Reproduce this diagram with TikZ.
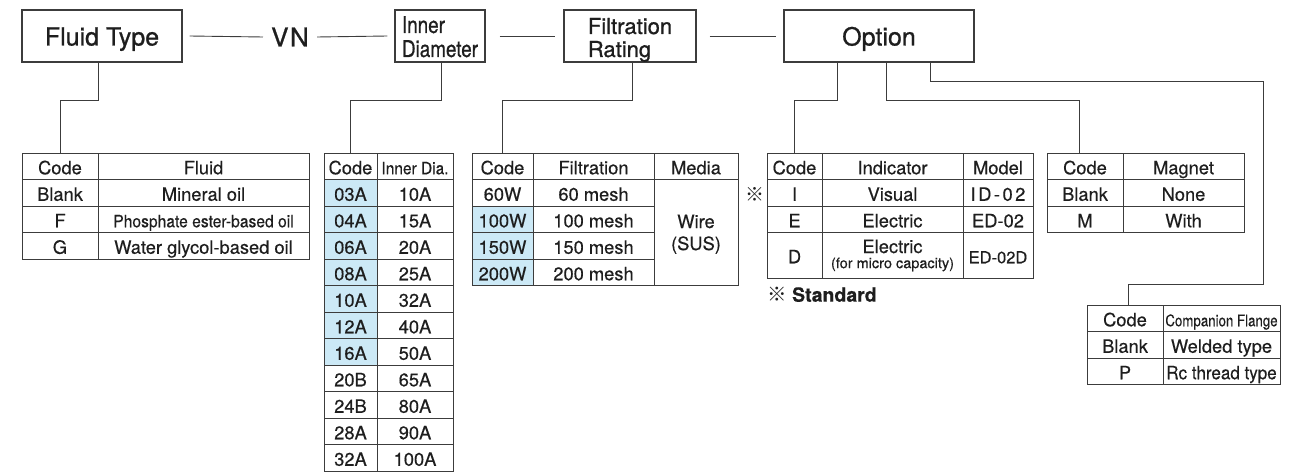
\documentclass[tikz,border=0pt]{standalone}
\usepackage{fontspec}
\usepackage{graphicx}
\setmainfont{TeX Gyre Heros}[FakeBold=0.4]
\newfontfamily\cjkfont{Noto Sans CJK JP}
\usetikzlibrary{calc}
\definecolor{shadeblue}{RGB}{204,233,246}
\definecolor{ln}{RGB}{60,60,60}
\definecolor{txt}{RGB}{30,30,30}
% cell: name, x1, y1, x2, y2, style, text
\newcommand\tcell[7]{\node[#6, minimum width={(#4)-(#2)}, minimum height={(#5)-(#3)}] (#1) at ({((#2)+(#4))/2},{((#3)+(#5))/2}) {#7};}
\newcommand\cond[3]{\scalebox{#1}[1]{\fontsize{#2}{#2}\selectfont #3}}
\begin{document}
\begin{tikzpicture}[x=1pt,y=-1pt,
  tc/.style={draw=ln, line width=0.9pt, inner sep=0pt, text=txt, font=\fontsize{18.3}{20}\selectfont},
  tl/.style={tc, text height=16pt, text depth=0pt},
  box/.style={draw=ln, line width=1.1pt, inner sep=0pt, text=txt, text height=19pt, text depth=0pt, font=\fontsize{25}{27}\selectfont\addfontfeature{FakeBold=0.9}, minimum height=52},
  multi/.style={text height=0pt, text depth=0pt},
  wire/.style={draw=ln, line width=0.9pt}]
\useasboundingbox (0,0) rectangle (1300,473);

% ---------- top row ----------
\node[box, minimum width=160] (ft) at (102,36) {Fluid Type};
\node[inner xsep=8pt, inner ysep=0pt, text=txt, text height=19pt, text depth=0pt, font=\fontsize{26}{28}\selectfont\addfontfeature{FakeBold=0.9}] (vn) at (290,37) {V\kern1.5pt N};
\node[box, multi, minimum width=90] (id) at (440,36) {\raisebox{3pt}[0pt][0pt]{\scalebox{0.82}[1]{\fontsize{23}{24}\selectfont\begin{tabular}[t]{@{}l@{}}Inner\\Diameter\end{tabular}}}};
\node[box, multi, minimum width=132] (fr) at (630,36) {\raisebox{2pt}[0pt][0pt]{\fontsize{22}{23}\selectfont\begin{tabular}[t]{@{}l@{}}Filtration\\Rating\end{tabular}}};
\node[box, minimum width=190] (op) at (879,36) {Option};

\draw[wire] ([xshift=7pt]ft.east) -- (vn.west);
\draw[wire] (vn.east) -- ([xshift=-7pt]id.west);
\draw[wire] ([xshift=14pt]id.east) -- ([xshift=-8pt]fr.west);
\draw[wire] ([xshift=13pt]fr.east) -- ([xshift=-7pt]op.west);

% ---------- fluid table ----------
\tcell{fh1}{22}{153}{98}{179.5}{tl}{Code}
\tcell{fh2}{98}{153}{309}{179.5}{tl}{Fluid}
\tcell{f1a}{22}{179.5}{98}{206}{tl}{Blank}
\tcell{f1b}{98}{179.5}{309}{206}{tl}{Mineral oil}
\tcell{f2a}{22}{206}{98}{232.5}{tl}{F}
\tcell{f2b}{98}{206}{309}{232.5}{tl}{\cond{0.92}{17}{Phosphate ester-based oil}}
\tcell{f3a}{22}{232.5}{98}{259}{tl}{G}
\tcell{f3b}{98}{232.5}{309}{259}{tl}{Water glycol-based oil}

% ---------- inner diameter table ----------
\tcell{ih1}{324}{153}{377}{179.5}{tl}{Code}
\tcell{ih2}{377}{153}{453}{179.5}{tl}{\cond{0.91}{17}{Inner Dia.}}
\foreach \c/\d/\s [count=\i] in {03A/10A/shadeblue,04A/15A/shadeblue,06A/20A/shadeblue,08A/25A/shadeblue,10A/32A/shadeblue,12A/40A/shadeblue,16A/50A/shadeblue,20B/65A/white,24B/80A/white,28A/90A/white,32A/100A/white}{
  \tcell{i\i a}{324}{179.5+26.5*(\i-1)}{377}{179.5+26.5*\i}{tl,fill=\s}{\c}
  \tcell{i\i b}{377}{179.5+26.5*(\i-1)}{453}{179.5+26.5*\i}{tl}{\d}
}

% ---------- filtration table ----------
\tcell{rh1}{472}{153}{533}{179.5}{tl}{Code}
\tcell{rh2}{533}{153}{654}{179.5}{tl}{Filtration}
\tcell{rh3}{654}{153}{738}{179.5}{tl}{Media}
\foreach \c/\d/\s [count=\i] in {60W/60 mesh/white,100W/100 mesh/shadeblue,150W/150 mesh/shadeblue,200W/200 mesh/shadeblue}{
  \tcell{r\i a}{472}{179.5+26.5*(\i-1)}{533}{179.5+26.5*\i}{tl,fill=\s}{\c}
  \tcell{r\i b}{533}{179.5+26.5*(\i-1)}{654}{179.5+26.5*\i}{tl}{\d}
}
\tcell{rm}{654}{179.5}{738}{285.5}{tc,multi}{\raisebox{4.5pt}[0pt][0pt]{\fontsize{18.3}{22}\selectfont\begin{tabular}[t]{@{}c@{}}Wire\\(SUS)\end{tabular}}}

% ---------- indicator table ----------
\tcell{dh1}{767}{153}{822}{179.5}{tl}{Code}
\tcell{dh2}{822}{153}{963}{179.5}{tl}{Indicator}
\tcell{dh3}{963}{153}{1033}{179.5}{tl}{Model}
\tcell{d1a}{767}{179.5}{822}{206}{tl}{I}
\tcell{d1b}{822}{179.5}{963}{206}{tl}{Visual}
\tcell{d1c}{963}{179.5}{1033}{206}{tl}{I\kern2.5pt D\kern2.5pt -\kern2.5pt 0\kern2.5pt 2}
\tcell{d2a}{767}{206}{822}{232.5}{tl}{E}
\tcell{d2b}{822}{206}{963}{232.5}{tl}{Electric}
\tcell{d2c}{963}{206}{1033}{232.5}{tl}{ED-02}
\tcell{d3a}{767}{232.5}{822}{278}{tl}{D}
\tcell{d3b}{822}{232.5}{963}{278}{tc,multi}{\raisebox{2.25pt}[0pt][0pt]{\fontsize{18.3}{15}\selectfont\begin{tabular}[t]{@{}c@{}}Electric\\{\fontsize{14.5}{15}\selectfont (for micro capacity)}\end{tabular}}}
\tcell{d3c}{963}{232.5}{1033}{278}{tl}{\fontsize{16.5}{18}\selectfont ED-02D}
\node[inner sep=0pt, text=txt, font=\cjkfont\fontsize{19}{19}\selectfont] (mark) at (755,194) {※};
\node[anchor=base west, inner sep=0pt, text=txt, font=\fontsize{19.5}{20}\selectfont\bfseries] (std) at (767,301.7) {{\mdseries\cjkfont ※} Standard};

% ---------- magnet table ----------
\tcell{mh1}{1047}{153}{1123}{179.5}{tl}{Code}
\tcell{mh2}{1123}{153}{1244}{179.5}{tl}{Magnet}
\tcell{m1a}{1047}{179.5}{1123}{206}{tl}{Blank}
\tcell{m1b}{1123}{179.5}{1244}{206}{tl}{None}
\tcell{m2a}{1047}{206}{1123}{232.5}{tl}{M}
\tcell{m2b}{1123}{206}{1244}{232.5}{tl}{With}

% ---------- companion flange table ----------
\tcell{ch1}{1087}{305}{1163}{331.5}{tl}{Code}
\tcell{ch2}{1163}{305}{1280}{331.5}{tl}{\cond{0.83}{16}{Companion Flange}}
\tcell{c1a}{1087}{331.5}{1163}{358}{tl}{Blank}
\tcell{c1b}{1163}{331.5}{1280}{358}{tl}{Welded type}
\tcell{c2a}{1087}{358}{1163}{384.5}{tl}{P}
\tcell{c2b}{1163}{358}{1280}{384.5}{tl}{\cond{0.93}{18.3}{Rc thread type}}

% ---------- connectors ----------
\coordinate (bend) at (1263,284);
\draw[wire] ([xshift=-4pt]ft.south) -- ++(0,38) -| (fh1.north);
\draw[wire] ([xshift=1pt]id.south) -- ++(0,38) -| (ih1.north);
\draw[wire] ([xshift=2pt]fr.south) -- ++(0,38) -| (rh1.north);
\draw[wire] ([xshift=-42pt]op.south) -- ++(0,38) -| (dh1.north);
\draw[wire] ([xshift=7pt]op.south) -- ++(0,38) -| ([xshift=-6pt]mh1.north);
\draw[wire] ([xshift=51pt]op.south) -- ++(0,19) -| (bend) -| ([xshift=3pt]ch1.north);
\end{tikzpicture}
\end{document}
